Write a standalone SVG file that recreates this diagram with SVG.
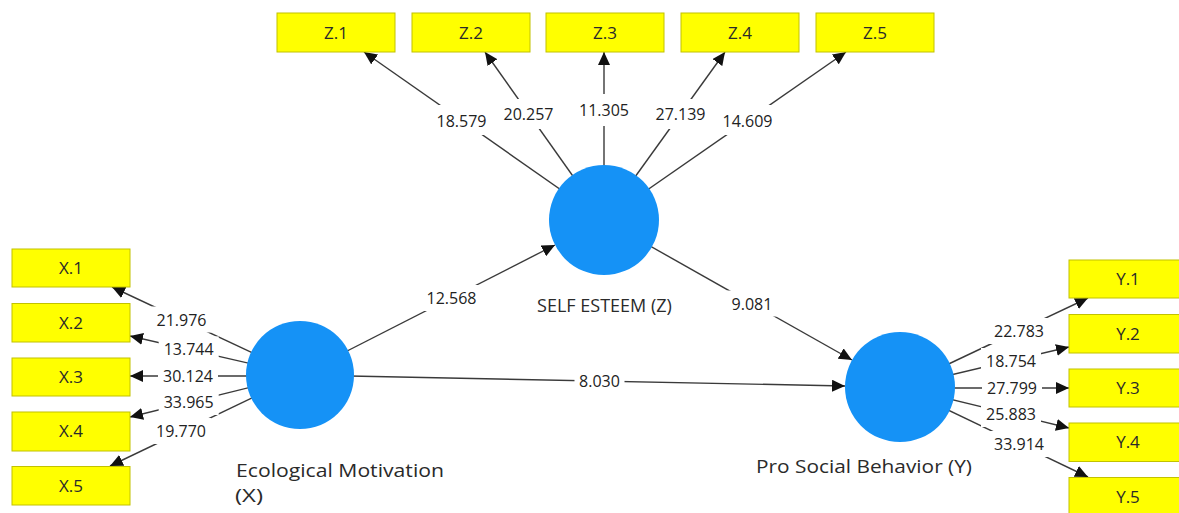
<svg xmlns="http://www.w3.org/2000/svg" width="1179" height="513" viewBox="0 0 1179 513">
<defs>
<marker id="arr" markerUnits="userSpaceOnUse" markerWidth="14" markerHeight="12" refX="13" refY="6" orient="auto"><path d="M0,0 L13,6 L0,12 z" fill="#111"/></marker>
<style>
.ln{stroke:#3a3a3a;stroke-width:1.4;fill:none;marker-end:url(#arr)}
.box{fill:#ffff00;stroke:#c2c200;stroke-width:1}
.bt{font-family:"Open Sans","Noto Sans",sans-serif;font-size:17px;fill:#2a2a2a;text-anchor:middle}
.lv{fill:#1592f6}
.lt{font-family:"Open Sans","Noto Sans",sans-serif;font-size:18px;fill:#2a2a2a}
.lt2{font-family:"Open Sans","Noto Sans",sans-serif;font-size:18px;fill:#2a2a2a}
.nb{font-family:"Open Sans","Noto Sans",sans-serif;font-size:16px;fill:#222;text-anchor:middle}
.bg{fill:#fff}
</style>
</defs>
<rect width="1179" height="513" fill="#fff"/>
<g id="connectors">
<line class="ln" x1="300" y1="375" x2="112" y2="287"/>
<line class="ln" x1="300" y1="375" x2="130" y2="336"/>
<line class="ln" x1="300" y1="376" x2="130" y2="376"/>
<line class="ln" x1="300" y1="375" x2="130" y2="417"/>
<line class="ln" x1="300" y1="375" x2="110" y2="466"/>
<line class="ln" x1="900" y1="387" x2="1088" y2="298"/>
<line class="ln" x1="900" y1="387" x2="1069" y2="347"/>
<line class="ln" x1="900" y1="388" x2="1069" y2="388"/>
<line class="ln" x1="900" y1="387" x2="1069" y2="428"/>
<line class="ln" x1="900" y1="387" x2="1088" y2="477"/>
<line class="ln" x1="604" y1="220" x2="364" y2="52"/>
<line class="ln" x1="604" y1="220" x2="485" y2="52"/>
<line class="ln" x1="604" y1="220" x2="604" y2="52"/>
<line class="ln" x1="604" y1="220" x2="725" y2="52"/>
<line class="ln" x1="604" y1="220" x2="846" y2="52"/>
<line class="ln" x1="300" y1="375" x2="555" y2="245"/>
<line class="ln" x1="604" y1="220" x2="852" y2="360"/>
<line class="ln" x1="300" y1="375" x2="845" y2="386"/>
<g id="weights">
<rect class="bg" x="151.5" y="306.5" width="60" height="26"/><text class="nb" x="181.5" y="325.5">21.976</text>
<rect class="bg" x="158.7" y="336.4" width="60" height="26"/><text class="nb" x="188.7" y="355.4">13.744</text>
<rect class="bg" x="158" y="362.5" width="60" height="26"/><text class="nb" x="188" y="381.5">30.124</text>
<rect class="bg" x="158.7" y="389" width="60" height="26"/><text class="nb" x="188.7" y="408">33.965</text>
<rect class="bg" x="151" y="418" width="60" height="26"/><text class="nb" x="181" y="437">19.770</text>
<rect class="bg" x="989" y="318" width="60" height="26"/><text class="nb" x="1019" y="337">22.783</text>
<rect class="bg" x="981" y="348" width="60" height="26"/><text class="nb" x="1011" y="367">18.754</text>
<rect class="bg" x="982" y="374.5" width="60" height="26"/><text class="nb" x="1012" y="393.5">27.799</text>
<rect class="bg" x="981" y="401" width="60" height="26"/><text class="nb" x="1011" y="420">25.883</text>
<rect class="bg" x="989" y="431" width="60" height="26"/><text class="nb" x="1019" y="450">33.914</text>
<rect class="bg" x="431.5" y="105" width="60" height="30"/><text class="nb" x="461.5" y="126.5">18.579</text>
<rect class="bg" x="498.5" y="99" width="60" height="30"/><text class="nb" x="528.5" y="120">20.257</text>
<rect class="bg" x="574" y="94" width="60" height="32"/><text class="nb" x="604" y="115.5">11.305</text>
<rect class="bg" x="650.5" y="99" width="60" height="30"/><text class="nb" x="680.5" y="120">27.139</text>
<rect class="bg" x="717.5" y="105" width="60" height="30"/><text class="nb" x="747.5" y="126.5">14.609</text>
<rect class="bg" x="421.5" y="285" width="60" height="26"/><text class="nb" x="451.5" y="304">12.568</text>
<rect class="bg" x="727" y="290.5" width="50" height="26"/><text class="nb" x="752" y="309.5">9.081</text>
<rect class="bg" x="574.5" y="368" width="50" height="26"/><text class="nb" x="599.5" y="387">8.030</text>
</g>
</g>
<g id="X"><circle class="lv" cx="300" cy="375" r="54"/><text class="lt2" x="236" y="477" textLength="208" lengthAdjust="spacingAndGlyphs">Ecological Motivation</text><text class="lt2" x="235" y="502" textLength="28" lengthAdjust="spacingAndGlyphs">(X)</text></g>
<g id="Z"><circle class="lv" cx="604" cy="220" r="55"/><text class="lt" x="604.5" y="312" text-anchor="middle">SELF ESTEEM (Z)</text></g>
<g id="Y"><circle class="lv" cx="900" cy="387" r="55"/><text class="lt2" x="756" y="473" textLength="216" lengthAdjust="spacingAndGlyphs">Pro Social Behavior (Y)</text></g>
<g id="X1"><rect class="box" x="12" y="249" width="118" height="38"/><text class="bt" x="71" y="274">X.1</text></g>
<g id="X2"><rect class="box" x="12" y="303.5" width="118" height="38.5"/><text class="bt" x="71" y="328.5">X.2</text></g>
<g id="X3"><rect class="box" x="12" y="358" width="118" height="38"/><text class="bt" x="71" y="383">X.3</text></g>
<g id="X4"><rect class="box" x="12" y="412" width="118" height="39"/><text class="bt" x="71" y="437">X.4</text></g>
<g id="X5"><rect class="box" x="12" y="466.5" width="118" height="38.5"/><text class="bt" x="71" y="491.5">X.5</text></g>
<g id="Y1"><rect class="box" x="1069" y="260" width="118" height="38"/><text class="bt" x="1128" y="285">Y.1</text></g>
<g id="Y2"><rect class="box" x="1069" y="314.5" width="118" height="38.5"/><text class="bt" x="1128" y="339.5">Y.2</text></g>
<g id="Y3"><rect class="box" x="1069" y="369" width="118" height="38"/><text class="bt" x="1128" y="394">Y.3</text></g>
<g id="Y4"><rect class="box" x="1069" y="423" width="118" height="38.5"/><text class="bt" x="1128" y="448">Y.4</text></g>
<g id="Y5"><rect class="box" x="1069" y="477.5" width="118" height="38.5"/><text class="bt" x="1128" y="502.5">Y.5</text></g>
<g id="Z1"><rect class="box" x="277" y="13" width="118" height="39"/><text class="bt" x="336" y="38.5">Z.1</text></g>
<g id="Z2"><rect class="box" x="412" y="13" width="118" height="39"/><text class="bt" x="471" y="38.5">Z.2</text></g>
<g id="Z3"><rect class="box" x="546" y="13" width="118" height="39"/><text class="bt" x="605" y="38.5">Z.3</text></g>
<g id="Z4"><rect class="box" x="681" y="13" width="118" height="39"/><text class="bt" x="740" y="38.5">Z.4</text></g>
<g id="Z5"><rect class="box" x="816" y="13" width="118" height="39"/><text class="bt" x="875" y="38.5">Z.5</text></g>
</svg>
